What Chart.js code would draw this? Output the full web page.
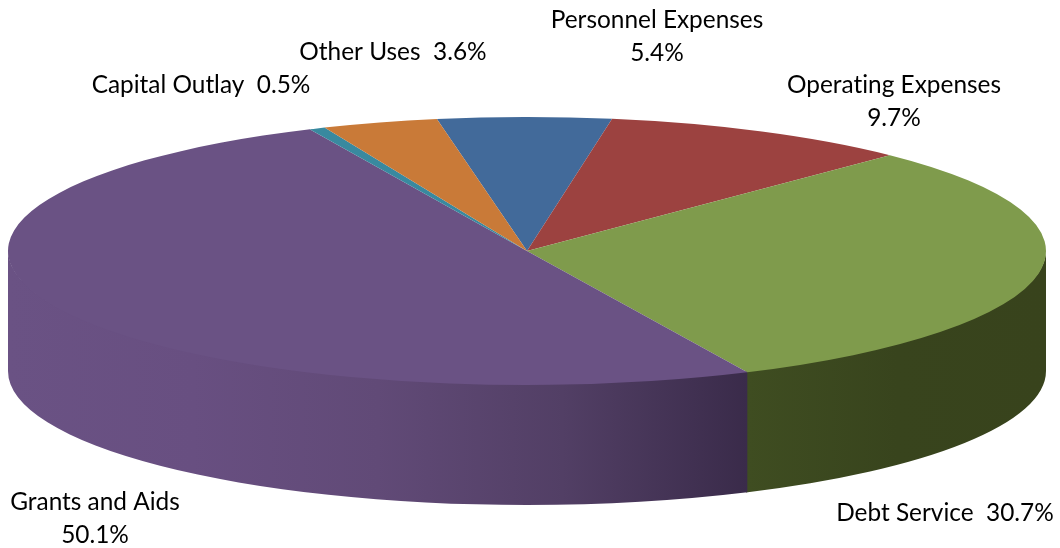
<!DOCTYPE html>
<html>
<head>
<meta charset="utf-8">
<title>Expenditures</title>
<script src="https://cdn.jsdelivr.net/npm/chart.js@4"></script>
<style>
    html, body { margin: 0; padding: 0; background: #fff; }
    canvas { display: block; }
</style>
</head>
<body>
<canvas id="pie3d" width="1060" height="548"></canvas>
<script>
const categories = ['Personnel Expenses', 'Operating Expenses', 'Debt Service', 'Grants and Aids', 'Capital Outlay', 'Other Uses'];
const percents = [5.4, 9.7, 30.7, 50.1, 0.5, 3.6];
const topColors = ['#426a9a', '#9c4240', '#7f9b4c', '#6a5284', '#39899f', '#c97a38'];

// wall shading per slice, left to right across the pie
const wallStops = [
    ['#2f4d70'],
    ['#6f2f2d'],
    ['#3f4d21', '#38441d', '#38431c'],
    ['#6a5284', '#684f81', '#614a77', '#523f65', '#3a2b4a'],
    ['#2a6476'],
    ['#94592a']
];

// label placement: centre x, first baseline, two lines or one
const labelSpots = [
    { x: 657, y: 28, wrap: true },
    { x: 894, y: 93, wrap: true },
    { x: 945, y: 521, wrap: false },
    { x: 95, y: 510, wrap: true },
    { x: 201, y: 93, wrap: false },
    { x: 393, y: 60, wrap: false }
];

const pieWidth = 519;   // half width of the squashed pie
const wallDepth = 120;

function squash(chart) {
    const arc = chart.getDatasetMeta(0).data[0];
    return { cx: arc.x, cy: arc.y, ry: arc.outerRadius, sx: pieWidth / arc.outerRadius };
}

const pie3dPlugin = {
    id: 'pie3d',
    beforeDatasetsDraw(chart) {
        const { ctx } = chart;
        const { cx, cy, ry, sx } = squash(chart);

        // side wall: only the part of each slice facing the viewer
        chart.getDatasetMeta(0).data.forEach((arc, i) => {
            const a0 = Math.max(arc.startAngle, 0);
            const a1 = Math.min(arc.endAngle, Math.PI);
            if (a1 <= a0) return;
            const xa = cx + pieWidth * Math.cos(a0);
            const xb = cx + pieWidth * Math.cos(a1);
            const grad = ctx.createLinearGradient(Math.min(xa, xb), 0, Math.max(xa, xb), 0);
            const stops = wallStops[i];
            stops.forEach((c, k) => grad.addColorStop(stops.length > 1 ? k / (stops.length - 1) : 0, c));
            // a bit of overlap on the far end and under the top face, so no white seams
            const end = Math.min(a1 + 0.003, Math.PI);
            ctx.beginPath();
            ctx.ellipse(cx, cy - 1, pieWidth, ry, 0, a0, end);
            ctx.ellipse(cx, cy + wallDepth, pieWidth, ry, 0, end, a0, true);
            ctx.closePath();
            ctx.fillStyle = grad;
            ctx.fill();
        });

        ctx.save();
        ctx.translate(cx, cy);
        ctx.scale(sx, 1);
        ctx.translate(-cx, -cy);
    },
    afterDatasetsDraw(chart) {
        chart.ctx.restore();
    },
    afterDraw(chart) {
        const { ctx } = chart;
        ctx.save();
        ctx.font = '24.4px Lato, "Open Sans", sans-serif';
        ctx.textRendering = 'optimizeSpeed';
        ctx.fillStyle = '#000';
        ctx.textAlign = 'center';
        ctx.textBaseline = 'alphabetic';
        categories.forEach((name, i) => {
            const spot = labelSpots[i];
            const pct = percents[i].toFixed(1) + '%';
            if (spot.wrap) {
                ctx.fillText(name, spot.x, spot.y);
                ctx.fillText(pct, spot.x, spot.y + 33);
            } else {
                ctx.fillText(name + '  ' + pct, spot.x, spot.y);
            }
        });
        ctx.restore();
    }
};

new Chart(document.getElementById('pie3d'), {
    type: 'pie',
    data: {
        labels: categories,
        datasets: [{
            data: percents,
            backgroundColor: topColors,
            borderWidth: 0,
            clip: false
        }]
    },
    options: {
        responsive: false,
        animation: false,
        rotation: -10,
        layout: { padding: { top: 117, bottom: 163, left: 0, right: 6 } },
        plugins: { legend: { display: false }, tooltip: { enabled: false } }
    },
    plugins: [pie3dPlugin]
});
</script>
</body>
</html>
